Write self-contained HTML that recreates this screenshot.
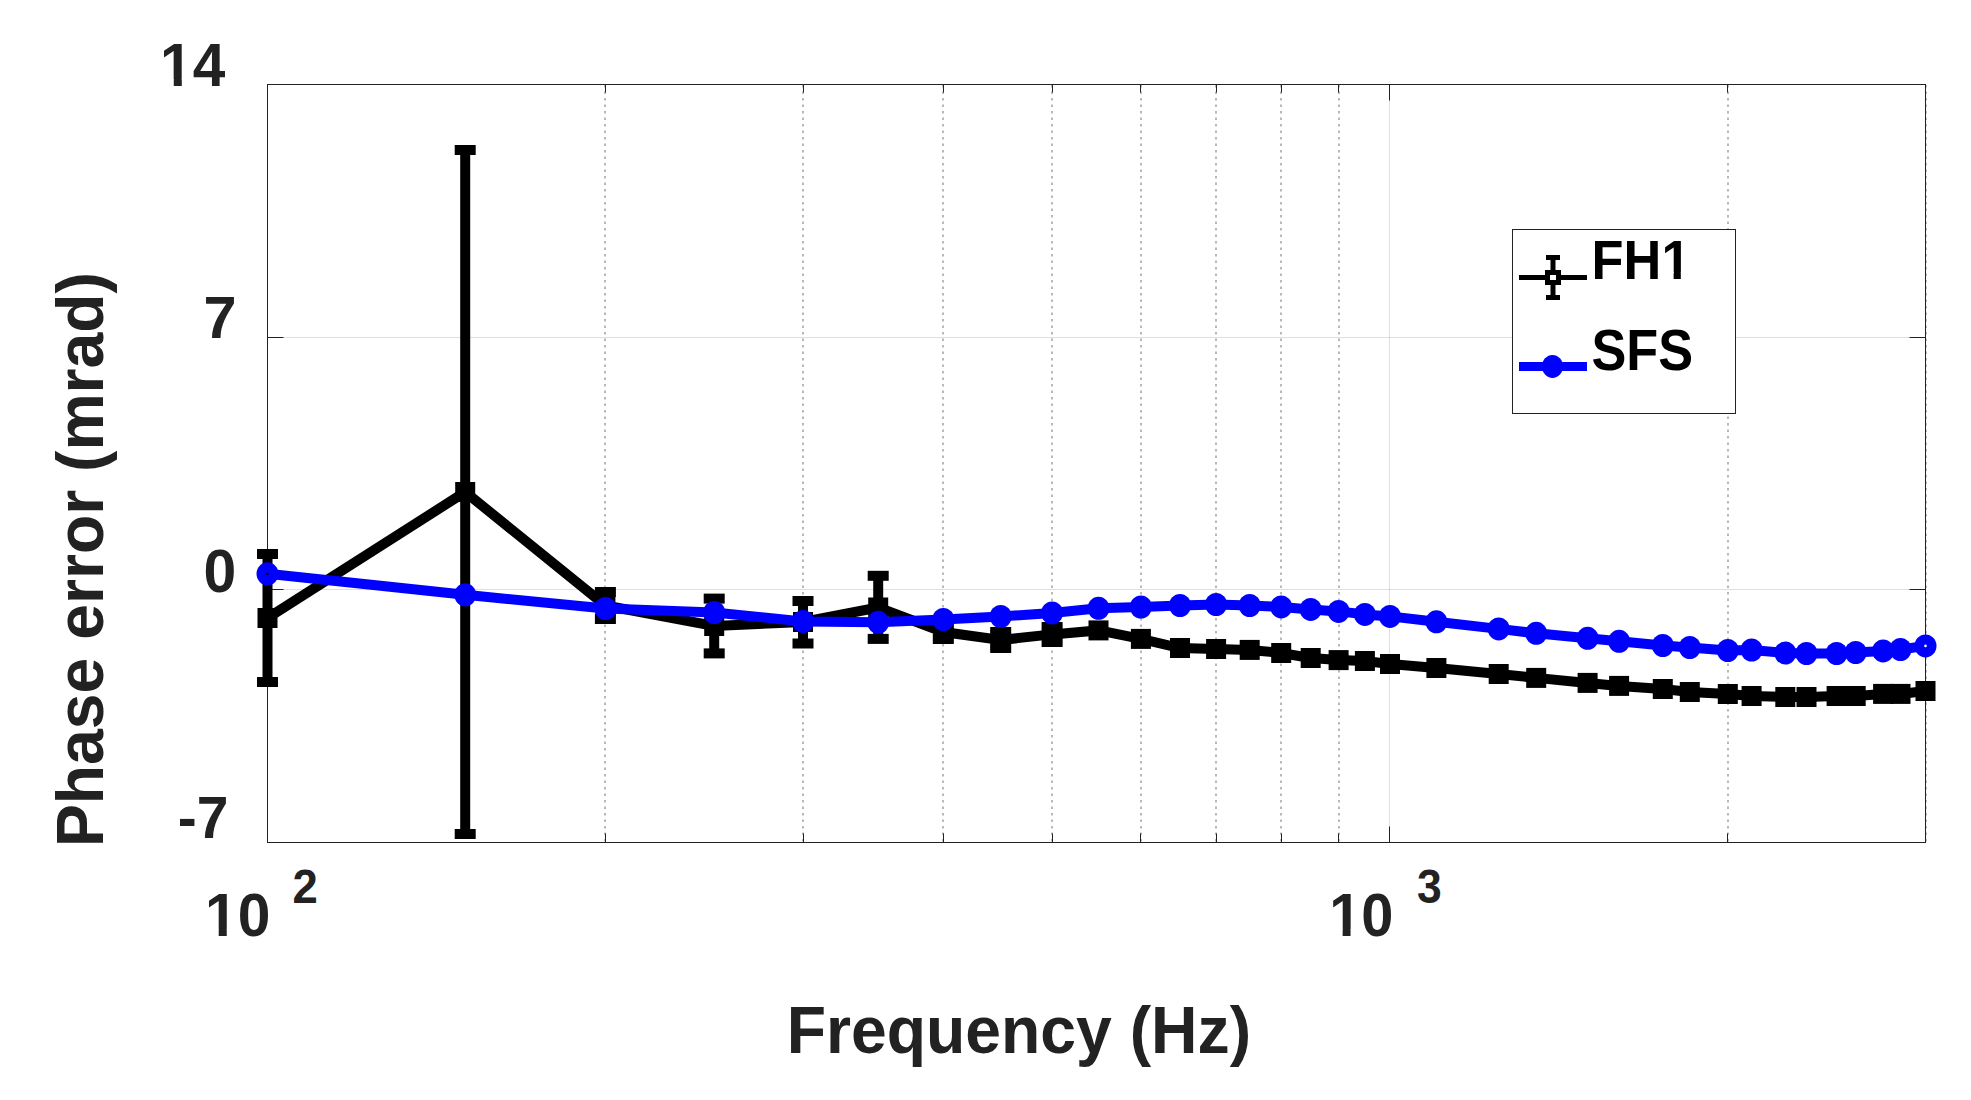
<!DOCTYPE html>
<html><head><meta charset="utf-8"><title>Phase error vs Frequency</title>
<style>
html,body{margin:0;padding:0;background:#fff;}
body{width:1971px;height:1100px;overflow:hidden;}
svg{display:block;}
text{font-family:"Liberation Sans",Arial,Helvetica,sans-serif;font-weight:bold;font-size:100px;}
</style></head><body>
<svg width="1971" height="1100" viewBox="0 0 1971 1100">
<rect x="0" y="0" width="1971" height="1100" fill="#fff"/>
<g id="grid"><line x1="605" y1="85.0" x2="605" y2="842.5" stroke="#b9b9b9" stroke-width="2" stroke-dasharray="2.5 4"/><line x1="803" y1="85.0" x2="803" y2="842.5" stroke="#b9b9b9" stroke-width="2" stroke-dasharray="2.5 4"/><line x1="943" y1="85.0" x2="943" y2="842.5" stroke="#b9b9b9" stroke-width="2" stroke-dasharray="2.5 4"/><line x1="1052" y1="85.0" x2="1052" y2="842.5" stroke="#b9b9b9" stroke-width="2" stroke-dasharray="2.5 4"/><line x1="1141" y1="85.0" x2="1141" y2="842.5" stroke="#b9b9b9" stroke-width="2" stroke-dasharray="2.5 4"/><line x1="1216" y1="85.0" x2="1216" y2="842.5" stroke="#b9b9b9" stroke-width="2" stroke-dasharray="2.5 4"/><line x1="1281" y1="85.0" x2="1281" y2="842.5" stroke="#b9b9b9" stroke-width="2" stroke-dasharray="2.5 4"/><line x1="1339" y1="85.0" x2="1339" y2="842.5" stroke="#b9b9b9" stroke-width="2" stroke-dasharray="2.5 4"/><line x1="1728" y1="85.0" x2="1728" y2="842.5" stroke="#b9b9b9" stroke-width="2" stroke-dasharray="2.5 4"/><line x1="1926" y1="85.0" x2="1926" y2="842.5" stroke="#b9b9b9" stroke-width="2" stroke-dasharray="2.5 4"/><line x1="1389.5" y1="84.5" x2="1389.5" y2="842.5" stroke="rgba(38,38,38,0.15)" stroke-width="1"/><line x1="267.5" y1="589.5" x2="1925.5" y2="589.5" stroke="rgba(38,38,38,0.15)" stroke-width="1"/><line x1="267.5" y1="337.5" x2="1925.5" y2="337.5" stroke="rgba(38,38,38,0.15)" stroke-width="1"/></g>
<g id="axes"><rect x="267.5" y="84.5" width="1658.0" height="758.0" fill="none" stroke="#222" stroke-width="1"/><line x1="267.5" y1="842.5" x2="267.5" y2="826.5" stroke="#222"/><line x1="267.5" y1="84.5" x2="267.5" y2="100.5" stroke="#222"/><line x1="1389.5" y1="842.5" x2="1389.5" y2="826.5" stroke="#222"/><line x1="1389.5" y1="84.5" x2="1389.5" y2="100.5" stroke="#222"/><line x1="605.5" y1="842.5" x2="605.5" y2="833.5" stroke="#222"/><line x1="605.5" y1="84.5" x2="605.5" y2="92.5" stroke="#222"/><line x1="803.5" y1="842.5" x2="803.5" y2="833.5" stroke="#222"/><line x1="803.5" y1="84.5" x2="803.5" y2="92.5" stroke="#222"/><line x1="943.5" y1="842.5" x2="943.5" y2="833.5" stroke="#222"/><line x1="943.5" y1="84.5" x2="943.5" y2="92.5" stroke="#222"/><line x1="1052.5" y1="842.5" x2="1052.5" y2="833.5" stroke="#222"/><line x1="1052.5" y1="84.5" x2="1052.5" y2="92.5" stroke="#222"/><line x1="1140.5" y1="842.5" x2="1140.5" y2="833.5" stroke="#222"/><line x1="1140.5" y1="84.5" x2="1140.5" y2="92.5" stroke="#222"/><line x1="1216.5" y1="842.5" x2="1216.5" y2="833.5" stroke="#222"/><line x1="1216.5" y1="84.5" x2="1216.5" y2="92.5" stroke="#222"/><line x1="1281.5" y1="842.5" x2="1281.5" y2="833.5" stroke="#222"/><line x1="1281.5" y1="84.5" x2="1281.5" y2="92.5" stroke="#222"/><line x1="1338.5" y1="842.5" x2="1338.5" y2="833.5" stroke="#222"/><line x1="1338.5" y1="84.5" x2="1338.5" y2="92.5" stroke="#222"/><line x1="1727.5" y1="842.5" x2="1727.5" y2="833.5" stroke="#222"/><line x1="1727.5" y1="84.5" x2="1727.5" y2="92.5" stroke="#222"/><line x1="1925.5" y1="842.5" x2="1925.5" y2="833.5" stroke="#222"/><line x1="1925.5" y1="84.5" x2="1925.5" y2="92.5" stroke="#222"/><line x1="267.5" y1="842.5" x2="283.5" y2="842.5" stroke="#222"/><line x1="1925.5" y1="842.5" x2="1909.5" y2="842.5" stroke="#222"/><line x1="267.5" y1="589.5" x2="283.5" y2="589.5" stroke="#222"/><line x1="1925.5" y1="589.5" x2="1909.5" y2="589.5" stroke="#222"/><line x1="267.5" y1="337.5" x2="283.5" y2="337.5" stroke="#222"/><line x1="1925.5" y1="337.5" x2="1909.5" y2="337.5" stroke="#222"/><line x1="267.5" y1="84.5" x2="283.5" y2="84.5" stroke="#222"/><line x1="1925.5" y1="84.5" x2="1909.5" y2="84.5" stroke="#222"/></g>
<g id="fh1"><polyline points="267.5,618 465.2,492 605.4,605.5 714.2,626 803.0,622 878.2,607.5 943.3,632 1000.7,640 1052.1,634.4 1098.5,630.4 1140.9,638.9 1180.0,648 1216.1,649 1249.7,649.9 1281.2,653 1310.7,658 1338.6,660.1 1364.9,661 1390.0,664 1436.4,668 1498.7,674 1536.2,677.9 1587.6,682.9 1619.1,685.9 1662.8,689 1689.8,692 1727.8,694 1751.6,696 1785.3,697 1806.5,697 1836.6,696 1855.7,696 1883.1,693.9 1900.5,693.9 1925.5,691" fill="none" stroke="#000" stroke-width="10" stroke-linejoin="miter"/><line x1="267.5" y1="554" x2="267.5" y2="682" stroke="#000" stroke-width="10"/><rect x="257.0" y="549" width="21" height="10" fill="#000"/><rect x="257.0" y="677" width="21" height="10" fill="#000"/><line x1="465.2" y1="150" x2="465.2" y2="834" stroke="#000" stroke-width="10"/><rect x="454.7" y="145" width="21" height="10" fill="#000"/><rect x="454.7" y="829" width="21" height="10" fill="#000"/><line x1="605.4" y1="592" x2="605.4" y2="619" stroke="#000" stroke-width="10"/><rect x="594.9" y="587" width="21" height="10" fill="#000"/><rect x="594.9" y="614" width="21" height="10" fill="#000"/><line x1="714.2" y1="598.6" x2="714.2" y2="653.4" stroke="#000" stroke-width="10"/><rect x="703.7" y="593.6" width="21" height="10" fill="#000"/><rect x="703.7" y="648.4" width="21" height="10" fill="#000"/><line x1="803.0" y1="601" x2="803.0" y2="643.5" stroke="#000" stroke-width="10"/><rect x="792.5" y="596" width="21" height="10" fill="#000"/><rect x="792.5" y="638.5" width="21" height="10" fill="#000"/><line x1="878.2" y1="575.8" x2="878.2" y2="638.9" stroke="#000" stroke-width="10"/><rect x="867.7" y="570.8" width="21" height="10" fill="#000"/><rect x="867.7" y="633.9" width="21" height="10" fill="#000"/><line x1="943.3" y1="627" x2="943.3" y2="639" stroke="#000" stroke-width="10"/><rect x="932.8" y="622" width="21" height="10" fill="#000"/><rect x="932.8" y="634" width="21" height="10" fill="#000"/><line x1="1000.7" y1="632" x2="1000.7" y2="648" stroke="#000" stroke-width="10"/><rect x="990.2" y="627" width="21" height="10" fill="#000"/><rect x="990.2" y="643" width="21" height="10" fill="#000"/><line x1="1052.1" y1="627" x2="1052.1" y2="642" stroke="#000" stroke-width="10"/><rect x="1041.6" y="622" width="21" height="10" fill="#000"/><rect x="1041.6" y="637" width="21" height="10" fill="#000"/><rect x="257.5" y="608.0" width="20" height="20" fill="#000"/><rect x="455.2" y="482.0" width="20" height="20" fill="#000"/><rect x="595.4" y="595.5" width="20" height="20" fill="#000"/><rect x="704.2" y="616.0" width="20" height="20" fill="#000"/><rect x="793.0" y="612.0" width="20" height="20" fill="#000"/><rect x="868.2" y="597.5" width="20" height="20" fill="#000"/><rect x="933.3" y="622.0" width="20" height="20" fill="#000"/><rect x="990.7" y="630.0" width="20" height="20" fill="#000"/><rect x="1042.1" y="624.4" width="20" height="20" fill="#000"/><rect x="1088.5" y="620.4" width="20" height="20" fill="#000"/><rect x="1130.9" y="628.9" width="20" height="20" fill="#000"/><rect x="1170.0" y="638.0" width="20" height="20" fill="#000"/><rect x="1206.1" y="639.0" width="20" height="20" fill="#000"/><rect x="1239.7" y="639.9" width="20" height="20" fill="#000"/><rect x="1271.2" y="643.0" width="20" height="20" fill="#000"/><rect x="1300.7" y="648.0" width="20" height="20" fill="#000"/><rect x="1328.6" y="650.1" width="20" height="20" fill="#000"/><rect x="1354.9" y="651.0" width="20" height="20" fill="#000"/><rect x="1380.0" y="654.0" width="20" height="20" fill="#000"/><rect x="1426.4" y="658.0" width="20" height="20" fill="#000"/><rect x="1488.7" y="664.0" width="20" height="20" fill="#000"/><rect x="1526.2" y="667.9" width="20" height="20" fill="#000"/><rect x="1577.6" y="672.9" width="20" height="20" fill="#000"/><rect x="1609.1" y="675.9" width="20" height="20" fill="#000"/><rect x="1652.8" y="679.0" width="20" height="20" fill="#000"/><rect x="1679.8" y="682.0" width="20" height="20" fill="#000"/><rect x="1717.8" y="684.0" width="20" height="20" fill="#000"/><rect x="1741.6" y="686.0" width="20" height="20" fill="#000"/><rect x="1775.3" y="687.0" width="20" height="20" fill="#000"/><rect x="1796.5" y="687.0" width="20" height="20" fill="#000"/><rect x="1826.6" y="686.0" width="20" height="20" fill="#000"/><rect x="1845.7" y="686.0" width="20" height="20" fill="#000"/><rect x="1873.1" y="683.9" width="20" height="20" fill="#000"/><rect x="1890.5" y="683.9" width="20" height="20" fill="#000"/><rect x="1915.5" y="681.0" width="20" height="20" fill="#000"/></g>
<g id="sfs"><polyline points="267.5,573.8 465.2,594.8 605.4,608.5 714.2,612.5 803.0,621.4 878.2,622.3 943.3,619.5 1000.7,616.5 1052.1,612.9 1098.5,608.3 1140.9,607 1180.0,605.5 1216.1,604.5 1249.7,605.5 1281.2,606.9 1310.7,609.4 1338.6,611.4 1364.9,614.4 1390.0,616.4 1436.4,621.8 1498.7,628.9 1536.2,633.3 1587.6,638.3 1619.1,641.3 1662.8,645.5 1689.8,647.5 1727.8,650.5 1751.6,650 1785.3,653 1806.5,653.5 1836.6,653.5 1855.7,652.5 1883.1,650.9 1900.5,649.5 1925.5,645.9" fill="none" stroke="#00f" stroke-width="10" stroke-linejoin="round"/><ellipse cx="267.5" cy="573.8" rx="11" ry="11.5" fill="#00f"/><ellipse cx="465.2" cy="594.8" rx="11" ry="11.5" fill="#00f"/><ellipse cx="605.4" cy="608.5" rx="11" ry="11.5" fill="#00f"/><ellipse cx="714.2" cy="612.5" rx="11" ry="11.5" fill="#00f"/><ellipse cx="803.0" cy="621.4" rx="11" ry="11.5" fill="#00f"/><ellipse cx="878.2" cy="622.3" rx="11" ry="11.5" fill="#00f"/><ellipse cx="943.3" cy="619.5" rx="11" ry="11.5" fill="#00f"/><ellipse cx="1000.7" cy="616.5" rx="11" ry="11.5" fill="#00f"/><ellipse cx="1052.1" cy="612.9" rx="11" ry="11.5" fill="#00f"/><ellipse cx="1098.5" cy="608.3" rx="11" ry="11.5" fill="#00f"/><ellipse cx="1140.9" cy="607" rx="11" ry="11.5" fill="#00f"/><ellipse cx="1180.0" cy="605.5" rx="11" ry="11.5" fill="#00f"/><ellipse cx="1216.1" cy="604.5" rx="11" ry="11.5" fill="#00f"/><ellipse cx="1249.7" cy="605.5" rx="11" ry="11.5" fill="#00f"/><ellipse cx="1281.2" cy="606.9" rx="11" ry="11.5" fill="#00f"/><ellipse cx="1310.7" cy="609.4" rx="11" ry="11.5" fill="#00f"/><ellipse cx="1338.6" cy="611.4" rx="11" ry="11.5" fill="#00f"/><ellipse cx="1364.9" cy="614.4" rx="11" ry="11.5" fill="#00f"/><ellipse cx="1390.0" cy="616.4" rx="11" ry="11.5" fill="#00f"/><ellipse cx="1436.4" cy="621.8" rx="11" ry="11.5" fill="#00f"/><ellipse cx="1498.7" cy="628.9" rx="11" ry="11.5" fill="#00f"/><ellipse cx="1536.2" cy="633.3" rx="11" ry="11.5" fill="#00f"/><ellipse cx="1587.6" cy="638.3" rx="11" ry="11.5" fill="#00f"/><ellipse cx="1619.1" cy="641.3" rx="11" ry="11.5" fill="#00f"/><ellipse cx="1662.8" cy="645.5" rx="11" ry="11.5" fill="#00f"/><ellipse cx="1689.8" cy="647.5" rx="11" ry="11.5" fill="#00f"/><ellipse cx="1727.8" cy="650.5" rx="11" ry="11.5" fill="#00f"/><ellipse cx="1751.6" cy="650" rx="11" ry="11.5" fill="#00f"/><ellipse cx="1785.3" cy="653" rx="11" ry="11.5" fill="#00f"/><ellipse cx="1806.5" cy="653.5" rx="11" ry="11.5" fill="#00f"/><ellipse cx="1836.6" cy="653.5" rx="11" ry="11.5" fill="#00f"/><ellipse cx="1855.7" cy="652.5" rx="11" ry="11.5" fill="#00f"/><ellipse cx="1883.1" cy="650.9" rx="11" ry="11.5" fill="#00f"/><ellipse cx="1900.5" cy="649.5" rx="11" ry="11.5" fill="#00f"/><ellipse cx="1925.5" cy="645.9" rx="11" ry="11.5" fill="#00f"/><circle cx="1925.5" cy="645.9" r="1.3" fill="#fff"/><circle cx="267.5" cy="573.8" r="1.3" fill="#000"/></g>
<g id="legend"><rect x="1512.5" y="229.5" width="223" height="184" fill="#fff" stroke="#222" stroke-width="1"/><line x1="1519" y1="277.5" x2="1587" y2="277.5" stroke="#000" stroke-width="5"/><line x1="1553" y1="257.5" x2="1553" y2="297.5" stroke="#000" stroke-width="5"/><line x1="1546" y1="257.5" x2="1560" y2="257.5" stroke="#000" stroke-width="5"/><line x1="1546" y1="297.5" x2="1560" y2="297.5" stroke="#000" stroke-width="5"/><rect x="1547.5" y="272.5" width="11" height="10" fill="#fff" stroke="#000" stroke-width="5"/><line x1="1519" y1="366.4" x2="1587" y2="366.4" stroke="#00f" stroke-width="9"/><ellipse cx="1552.5" cy="366.4" rx="10.5" ry="11.5" fill="#00f"/><text transform="translate(1591.60,278.80) scale(0.5236,0.5480)" fill="#000" >FH1</text><rect x="1664" y="272" width="9.62" height="8" fill="#fff"/><rect x="1680.80" y="272" width="9.20" height="8" fill="#fff"/><text transform="translate(1591.39,370.45) scale(0.5227,0.5664)" fill="#000" >SFS</text></g>
<g id="labels"><text transform="translate(160.10,85.80) scale(0.5854,0.6061)" fill="#222" >14</text><rect x="163" y="79" width="10.76" height="8" fill="#fff"/><rect x="181.79" y="79" width="10.21" height="8" fill="#fff"/><text transform="translate(203.45,337.80) scale(0.5946,0.5930)" fill="#222" >7</text><text transform="translate(203.57,592.41) scale(0.5887,0.6073)" fill="#222" >0</text><text transform="translate(177.78,837.80) scale(0.5694,0.5916)" fill="#222" >-7</text><text transform="translate(204.99,936.31) scale(0.5873,0.6059)" fill="#222" >10</text><rect x="208" y="929" width="10.69" height="8" fill="#fff"/><rect x="226.75" y="929" width="10.25" height="8" fill="#fff"/><text transform="translate(292.52,902.70) scale(0.4549,0.4855)" fill="#222" >2</text><text transform="translate(1329.15,936.31) scale(0.5773,0.6059)" fill="#222" >10</text><rect x="1332" y="929" width="10.63" height="8" fill="#fff"/><rect x="1350.55" y="929" width="10.45" height="8" fill="#fff"/><text transform="translate(1416.98,903.36) scale(0.4446,0.4778)" fill="#222" >3</text><text transform="translate(786.75,1053.00) scale(0.6430,0.6686)" fill="#222" >Frequency (Hz)</text><text transform="translate(102.80,847.00) rotate(-90) scale(0.6427,0.6657)" fill="#222">Phase error (mrad)</text></g>
</svg></body></html>
